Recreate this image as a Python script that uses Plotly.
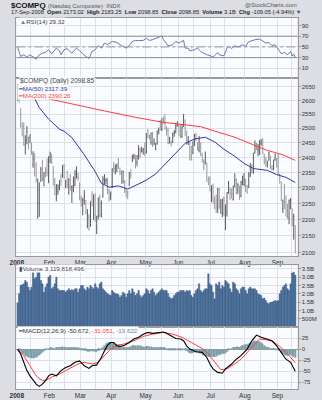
import math
import pandas as pd
import plotly.graph_objects as go

# ---------------------------------------------------------------- data
holidays = ["2008-01-21", "2008-02-18", "2008-03-21", "2008-05-26", "2008-07-04", "2008-09-01"]
dates = [d for d in pd.bdate_range("2008-01-02", "2008-09-17") if d.strftime("%Y-%m-%d") not in holidays]

open_ = [
    2653.9, 2611.9, 2571.1, 2514.2, 2506.7, 2443.5, 2457.4, 2466.2, 2468.4, 2440.5, 2375.9, 2399.6, 2370.7, 2208.2, 2251.2, 2339.0, 2382.3, 2328.6, 2359.7, 2353.4, 2326.2,
    2401.5, 2404.2, 2357.5, 2321.5, 2269.4, 2287.9, 2309.9, 2335.0, 2337.0, 2370.1, 2319.4, 2353.9, 2283.9, 2338.3, 2302.8, 2296.2, 2307.6, 2331.9, 2336.9, 2316.1,
    2262.0, 2241.6, 2265.2, 2259.1, 2181.5, 2206.5, 2196.1, 2260.2, 2211.8, 2276.0, 2157.6, 2210.0, 2272.5, 2214.3, 2270.5, 2327.0, 2322.4, 2328.6, 2291.5, 2268.1,
    2302.6, 2365.3, 2351.1, 2370.5, 2391.5, 2355.5, 2352.4, 2318.9, 2320.1, 2289.6, 2286.7, 2308.6, 2345.0, 2390.6, 2401.6, 2400.5, 2383.7, 2406.1, 2427.6, 2419.0, 2418.7, 2435.7,
    2417.5, 2495.0, 2470.1, 2451.8, 2479.5, 2449.4, 2428.3, 2449.6, 2492.3, 2501.5, 2496.2, 2537.5, 2534.5, 2499.4, 2491.7, 2453.3, 2449.5, 2450.6, 2486.2, 2485.1, 2511.4,
    2512.3, 2503.9, 2472.0, 2508.8, 2528.1, 2488.1, 2447.1, 2450.5, 2405.9, 2416.0, 2440.8, 2477.5, 2445.0, 2424.6, 2448.2, 2412.8, 2379.4, 2383.9, 2382.1, 2322.3, 2328.0,
    2270.0, 2307.9, 2263.1, 2257.4, 2236.7, 2294.7, 2239.9, 2222.6, 2270.1, 2195.3, 2222.7, 2295.2, 2294.9, 2294.3, 2262.7, 2307.4, 2324.1, 2291.5, 2300.1, 2272.1, 2324.7, 2310.3,
    2325.8, 2305.6, 2300.5, 2343.7, 2361.9, 2353.4, 2414.6, 2432.8, 2423.3, 2412.4, 2446.9, 2456.4, 2404.2, 2393.4, 2374.0, 2391.1, 2404.2, 2364.6, 2362.0, 2393.5, 2395.3,
    2399.9, 2344.1, 2318.5, 2234.2, 2311.6, 2266.8, 2230.6, 2204.9, 2238.0, 2198.6, 2150.8, 2173.02,
]
high = [
    2661.5, 2624.3, 2572.0, 2521.6, 2521.5, 2474.6, 2508.4, 2470.9, 2478.3, 2451.2, 2420.9, 2414.9, 2384.1, 2330.0, 2316.4, 2368.2, 2392.5, 2350.2, 2367.8, 2397.4, 2404.3,
    2419.3, 2411.3, 2372.1, 2331.9, 2312.0, 2310.9, 2324.9, 2345.4, 2374.2, 2378.2, 2326.1, 2354.3, 2331.0, 2345.1, 2307.7, 2336.9, 2358.1, 2370.2, 2348.5, 2317.5,
    2274.4, 2267.8, 2292.7, 2260.3, 2232.4, 2216.3, 2256.1, 2288.9, 2278.8, 2282.6, 2211.6, 2268.3, 2278.2, 2258.7, 2337.5, 2344.3, 2331.2, 2332.5, 2296.1, 2288.3,
    2362.8, 2385.0, 2376.5, 2380.5, 2398.5, 2366.6, 2357.7, 2356.7, 2324.5, 2296.0, 2292.1, 2351.4, 2360.8, 2409.4, 2412.5, 2407.9, 2407.8, 2441.4, 2432.7, 2436.7, 2432.2, 2451.5,
    2483.3, 2497.6, 2477.9, 2485.3, 2487.8, 2465.2, 2448.8, 2492.6, 2502.8, 2529.8, 2534.5, 2542.3, 2551.5, 2506.9, 2502.1, 2470.3, 2456.8, 2484.8, 2494.4, 2518.5, 2524.4,
    2514.3, 2515.8, 2515.3, 2550.3, 2531.7, 2492.1, 2473.4, 2452.6, 2439.5, 2454.6, 2480.5, 2484.1, 2452.3, 2473.4, 2450.8, 2415.6, 2394.0, 2420.0, 2382.1, 2336.4, 2337.8,
    2307.3, 2313.5, 2271.3, 2278.7, 2300.0, 2300.3, 2263.8, 2265.9, 2271.9, 2246.9, 2285.5, 2322.4, 2300.8, 2297.0, 2306.8, 2347.8, 2330.6, 2315.1, 2307.2, 2321.9, 2339.7, 2348.2,
    2328.6, 2309.0, 2350.0, 2381.1, 2377.4, 2415.9, 2458.3, 2449.4, 2446.4, 2460.2, 2462.6, 2466.6, 2412.5, 2401.5, 2389.4, 2419.9, 2406.5, 2374.8, 2392.9, 2412.2, 2398.5,
    2411.1, 2346.0, 2319.9, 2262.4, 2312.8, 2275.7, 2247.6, 2262.7, 2267.0, 2234.8, 2217.9, 2183.25,
]
low = [
    2597.8, 2592.2, 2502.7, 2471.7, 2440.3, 2410.0, 2445.1, 2427.9, 2448.5, 2409.4, 2365.9, 2336.9, 2318.0, 2202.5, 2208.2, 2318.6, 2322.2, 2304.6, 2334.5, 2337.9, 2314.9,
    2381.3, 2378.4, 2308.1, 2276.0, 2256.9, 2277.5, 2290.9, 2305.8, 2333.0, 2330.3, 2298.7, 2298.5, 2278.0, 2290.5, 2251.9, 2285.5, 2306.6, 2330.1, 2322.8, 2260.1,
    2241.1, 2213.0, 2246.3, 2216.0, 2173.0, 2166.6, 2177.4, 2240.8, 2198.4, 2192.7, 2155.4, 2200.0, 2207.8, 2206.0, 2268.5, 2311.5, 2310.8, 2280.2, 2256.5, 2261.3,
    2299.8, 2352.0, 2343.8, 2351.2, 2361.4, 2341.8, 2312.4, 2313.9, 2283.4, 2269.7, 2263.4, 2306.4, 2329.7, 2384.6, 2393.8, 2363.1, 2371.1, 2392.8, 2398.3, 2417.0, 2409.8, 2404.1,
    2413.2, 2465.4, 2460.9, 2443.1, 2436.3, 2441.4, 2424.5, 2443.5, 2479.1, 2494.8, 2490.6, 2515.8, 2495.4, 2475.4, 2445.2, 2447.4, 2437.4, 2449.0, 2470.7, 2483.0, 2506.0,
    2471.7, 2466.6, 2466.8, 2505.0, 2474.4, 2443.2, 2442.6, 2389.7, 2389.6, 2411.4, 2438.7, 2456.3, 2423.8, 2417.1, 2404.9, 2383.2, 2357.5, 2376.3, 2320.7, 2308.4, 2288.1,
    2254.8, 2250.2, 2232.2, 2220.8, 2219.7, 2233.7, 2217.0, 2207.3, 2211.7, 2167.3, 2208.9, 2280.2, 2261.3, 2265.5, 2259.3, 2301.0, 2278.9, 2280.6, 2262.0, 2270.5, 2308.5, 2305.2,
    2286.1, 2280.5, 2299.9, 2334.7, 2346.9, 2345.6, 2414.2, 2425.0, 2404.4, 2409.4, 2440.1, 2410.1, 2377.6, 2369.0, 2366.3, 2389.5, 2361.3, 2356.7, 2357.1, 2388.6, 2367.4,
    2342.8, 2313.6, 2256.7, 2220.3, 2232.9, 2209.3, 2201.7, 2185.4, 2231.9, 2179.9, 2138.6, 2098.85,
]
close = [
    2609.6, 2602.7, 2504.7, 2499.5, 2440.5, 2474.6, 2488.5, 2439.9, 2478.3, 2417.6, 2394.6, 2346.9, 2340.0, 2292.3, 2316.4, 2360.9, 2326.2, 2349.9, 2358.1, 2349.0, 2389.9,
    2413.4, 2382.9, 2309.6, 2278.8, 2293.0, 2304.9, 2320.1, 2320.0, 2373.9, 2332.5, 2321.8, 2306.2, 2327.1, 2299.8, 2303.4, 2327.5, 2345.0, 2353.8, 2331.6, 2271.5,
    2258.6, 2260.3, 2272.8, 2220.5, 2212.5, 2169.3, 2255.8, 2243.9, 2263.6, 2212.5, 2177.0, 2268.3, 2210.0, 2258.1, 2326.8, 2341.1, 2324.4, 2280.8, 2261.2, 2279.1,
    2362.8, 2361.4, 2363.3, 2371.0, 2364.8, 2348.8, 2322.1, 2351.7, 2290.2, 2275.8, 2286.0, 2350.1, 2341.8, 2403.0, 2408.0, 2376.9, 2405.2, 2428.9, 2422.9, 2424.4, 2426.1, 2412.8,
    2480.7, 2476.8, 2464.1, 2483.3, 2438.5, 2451.2, 2445.5, 2488.5, 2495.1, 2496.7, 2533.7, 2528.9, 2516.1, 2492.3, 2448.3, 2464.6, 2444.7, 2481.2, 2486.7, 2508.3, 2522.7,
    2491.5, 2480.5, 2503.1, 2549.9, 2474.6, 2459.5, 2448.9, 2394.0, 2404.4, 2454.5, 2474.8, 2457.7, 2429.7, 2462.1, 2406.1, 2385.7, 2368.3, 2401.3, 2321.4, 2315.6, 2293.0,
    2305.0, 2251.5, 2245.4, 2243.3, 2294.4, 2234.9, 2257.9, 2239.1, 2212.9, 2215.7, 2284.9, 2312.3, 2282.8, 2279.5, 2304.0, 2325.9, 2280.1, 2310.5, 2264.2, 2319.6, 2329.7, 2325.6,
    2311.0, 2285.6, 2349.8, 2378.4, 2355.7, 2414.1, 2440.0, 2430.6, 2428.6, 2453.7, 2452.5, 2417.0, 2384.4, 2389.1, 2380.4, 2414.7, 2365.6, 2362.0, 2382.5, 2411.6, 2367.5,
    2349.2, 2333.7, 2259.0, 2255.9, 2269.8, 2209.8, 2228.7, 2258.2, 2261.3, 2179.9, 2207.9, 2098.85,
]
# daily volume, billions of shares
volume = [
    1.45, 2.0, 2.5, 2.55, 2.6, 2.8, 2.7, 2.4, 2.2, 2.4, 3.3, 2.9, 3.0, 3.3, 3.35, 2.8, 2.6, 2.1, 2.4, 2.6, 3.0,
    3.1, 2.3, 2.4, 2.6, 3.0, 2.3, 2.2, 2.2, 2.2, 2.2, 2.1, 2.2, 2.3, 2.2, 2.25, 2.2, 2.3, 2.3, 2.1, 2.3,
    2.5, 2.5, 2.3, 2.2, 2.4, 2.3, 2.5, 2.4, 2.3, 2.6, 2.4, 2.3, 2.6, 2.7, 2.3, 2.2, 2.1, 2.0, 1.95, 1.9,
    2.2, 2.1, 2.0, 2.0, 1.95, 1.8, 1.9, 2.1, 2.0, 1.8, 2.0, 2.2, 2.0, 2.3, 2.1, 1.9, 2.0, 2.2, 1.9, 1.8, 1.9, 2.0,
    2.3, 2.2, 2.0, 2.2, 2.3, 2.1, 1.9, 2.0, 2.1, 2.2, 2.3, 2.2, 2.2, 2.2, 2.0, 1.8, 1.7, 1.75, 1.9, 2.0, 2.1,
    2.1, 2.2, 2.2, 2.2, 2.1, 2.2, 2.15, 2.2, 1.9, 1.8, 2.0, 2.2, 2.3, 2.6, 2.2, 2.1, 2.2, 2.3, 2.3, 3.2, 2.6,
    2.5, 2.1, 1.7, 2.6, 2.5, 2.7, 2.3, 2.5, 2.4, 2.8, 2.7, 2.6, 2.3, 2.1, 2.7, 2.6, 2.3, 2.2, 2.0, 2.3, 2.4, 2.4,
    2.2, 2.0, 2.3, 2.4, 2.3, 2.3, 2.3, 2.2, 2.0, 1.95, 1.9, 1.7, 1.75, 1.6, 1.45, 1.4, 1.5, 1.5, 1.55, 1.6, 1.55,
    1.6, 2.0, 2.2, 2.4, 2.5, 2.6, 2.3, 2.2, 2.6, 3.25, 3.3, 3.119818496,
]

# moving averages (trading-day index, value)
ma50_day = [10, 14, 20, 27, 30, 35, 43, 50, 54, 59, 65, 71, 77, 83, 89, 96, 102, 108, 114, 121, 127, 133, 140, 146, 152, 161, 167, 173, 179]
ma50_val = [2618, 2574, 2533, 2497, 2490, 2468, 2409, 2353, 2315, 2302, 2306, 2296, 2310, 2325, 2345, 2382, 2417, 2448, 2463, 2469, 2453, 2428, 2404, 2380, 2363, 2357, 2343, 2334, 2317.39]
ma200_day = [10, 35, 56, 77, 93, 118, 125, 140, 152, 161, 171, 179]
ma200_val = [2618, 2586, 2562, 2538, 2522, 2506, 2495, 2469, 2443, 2424, 2409, 2390.26]

# RSI(14)
rsi_day = [0, 2, 4, 6, 8, 10, 12, 14, 16, 18, 20, 22, 25, 27, 28, 30, 32, 35, 38, 40,
           42, 46, 48, 50, 52, 54, 56, 58, 61, 64, 67, 70, 72, 74, 76, 78, 81, 83, 85, 87,
           89, 93, 94, 96, 97, 100, 102, 104, 107, 108, 110, 111, 114, 116, 118, 120, 122, 124, 126, 129,
           130, 133, 135, 136, 138, 140, 142, 145, 147, 149, 151, 153, 156, 158, 160, 162, 164, 166, 168, 170,
           172, 174, 176, 177, 178, 179]
rsi_val = [49.7, 32.2, 35.3, 30.9, 35.3, 30.9, 27.2, 35.3, 38.4, 39.7, 44.7, 37.2, 47.8, 42.8, 35.3, 44.7, 46.6, 38.4, 47.8, 42.8,
           37.2, 28.4, 41.6, 44.7, 52.2, 47.8, 57.2, 54.1, 60.3, 58.4, 52.2, 47.8, 52.2, 60.3, 62.2, 61.6, 62.2, 65.9, 62.2, 63.4,
           65.9, 70.5, 64.0, 57.2, 52.0, 54.1, 60.3, 57.2, 62.2, 47.8, 47.8, 42.8, 44.7, 47.8, 41.6, 38.4, 35.3, 34.0, 30.9, 39.7,
           35.3, 33.4, 47.8, 50.9, 47.2, 52.2, 49.7, 54.1, 50.9, 59.7, 62.2, 63.4, 64.7, 60.3, 57.2, 58.4, 52.2, 54.1, 44.7, 37.2,
           39.7, 35.3, 41.6, 33.0, 37.0, 29.32]

# MACD(12,26,9)
macd_day = [0, 2, 4, 6, 8, 10, 12, 14, 16, 18, 20, 22, 25, 28, 31, 34, 37, 40, 43, 46,
            48, 51, 54, 56, 58, 60, 62, 64, 66, 69, 72, 75, 78, 81, 84, 87, 90, 94, 96, 99,
            102, 105, 107, 109, 111, 115, 119, 122, 124, 126, 129, 132, 134, 138, 141, 144, 148, 151, 154, 157,
            161, 164, 167, 170, 173, 176, 179]
macd_val = [0, -11, -30, -49, -61, -72, -80, -85, -80, -72, -61, -57, -61, -49, -42, -38, -30, -27, -38, -44,
            -38, -36, -19, -4, 9, 15, 15, 7.5, 6, 9, 15, 23, 27, 34, 38, 36, 38, 39, 36, 29,
            24, 23, 19, 7.5, 0, -6, -7.5, -19, -34, -45, -53, -55, -45, -34, -23, -15, 0, 19, 32, 27,
            23, 19, 7.5, -7.5, -23, -30, -50.672]
signal_day = [0, 4, 8, 12, 16, 19, 22, 27, 31, 35, 39, 43, 48, 52, 56, 60, 64, 68, 75, 81,
              87, 94, 100, 106, 112, 119, 123, 127, 131, 135, 140, 144, 148, 152, 156, 161, 165, 169, 173, 179]
signal_val = [0, -15, -38, -61, -72, -70, -64, -57, -49, -42, -34, -30, -34, -30, -15, 0, 9, 11, 19, 29,
              34, 38, 34, 27, 15, 1.5, -11, -30, -47, -45, -34, -23, -7.5, 9, 23, 21, 17, 6, -7.5, -31.051]
hist = [
    0, -3, -6, -9, -12, -15, -17, -19, -20, -21, -21, -20, -19, -17, -14, -11, -8, -5, -2, 0, 2,
    3, 3, 2, 2, 3, 4, 5, 5, 6, 5, 5, 4, 4, 4, 3, 3, 4, 4, 3, 1,
    -1, -2, -3, -4, -5, -6, -5, -5, -5, -6, -6, -4, -3, 0, 4, 9, 13, 15, 16, 16,
    15, 14, 12, 11, 10, 8, 6, 6, 4, 3, 3, 5, 6, 8, 9, 8, 8, 8, 8, 7, 6, 5,
    7, 7, 6, 6, 4, 4, 3, 4, 4, 4, 5, 5, 3, 1, -1, -2, -3, -2, -2, -1, 0,
    -2, -3, -2, 0, -2, -4, -6, -9, -10, -9, -7, -7, -8, -8, -10, -12, -14, -13, -16, -17, -18,
    -17, -18, -18, -17, -14, -14, -12, -11, -10, -10, -6, -2, 0, 1, 3, 5, 5, 6, 5, 7, 9, 10,
    11, 11, 13, 15, 16, 18, 19, 19, 18, 17, 15, 12, 9, 6, 5, 4, 2, 1, 1, 2, 0,
    -2, -4, -8, -11, -12, -14, -15, -14, -13, -16, -17, -19.622,
]

price_ticks = [2100, 2150, 2200, 2250, 2300, 2350, 2400, 2450, 2500, 2550, 2600, 2650]
rsi_ticks = [10, 30, 50, 70, 90]
vol_ticks = [0.5, 1.0, 1.5, 2.0, 2.5, 3.0, 3.5]
vol_tick_text = ["500M", "1.0B", "1.5B", "2.0B", "2.5B", "3.0B", "3.5B"]
macd_ticks = [-75, -50, -25, 0, 25]
month_labels = ["2008", "Feb", "Mar", "Apr", "May", "Jun", "Jul", "Aug", "Sep"]

# ---------------------------------------------------------------- x grid (trading-day index)
n = len(dates)
x = list(range(n))
hover = [d.strftime("%d-%b-%Y") for d in dates]
month_start = [i for i in range(n) if i == 0 or dates[i].month != dates[i - 1].month]
mid_month = [next(i for i in range(n) if dates[i].month == m and dates[i].day >= 15) for m in range(1, 10)]
grid_vals = [i - 0.5 for i in month_start] + [i - 0.5 for i in mid_month]
grid_text = ["<b>2008</b>"] + month_labels[1:] + [""] * len(mid_month)

# ---------------------------------------------------------------- geometry helpers
W, H = 322, 400
def fx(p):
    return p / W
def fy(p):
    return 1 - p / H

x_dom = [fx(9.5), fx(297)]
rsi_dom = [fy(78.5), fy(18)]
price_dom = [fy(257), fy(78.5)]
vol_dom = [fy(328), fy(266)]
macd_dom = [fy(390), fy(328)]

FONT = "Liberation Sans, Arial, DejaVu Sans, sans-serif"
GRID = "#dde1e8"
BORDER = "#9a9a9a"
PLOT_BG = "#fbfcff"

fig = go.Figure()

# RSI panel
fig.add_trace(go.Scatter(x=rsi_day, y=rsi_val, mode="lines", line=dict(color="#5a68a8", width=0.9),
                         xaxis="x", yaxis="y", hoverinfo="skip"))

# price panel
fig.add_trace(go.Ohlc(x=x, open=open_, high=high, low=low, close=close, text=hover,
                      xaxis="x2", yaxis="y2", tickwidth=0.35,
                      increasing=dict(line=dict(color="#5a5a5a", width=1)),
                      decreasing=dict(line=dict(color="#9a9a9a", width=1))))
fig.add_trace(go.Scatter(x=ma200_day, y=ma200_val, mode="lines", line=dict(color="#ff3c3c", width=1),
                         xaxis="x2", yaxis="y2", hoverinfo="skip"))
fig.add_trace(go.Scatter(x=ma50_day, y=ma50_val, mode="lines", line=dict(color="#34349a", width=1),
                         xaxis="x2", yaxis="y2", hoverinfo="skip"))

# volume panel
fig.add_trace(go.Bar(x=x, y=volume, marker=dict(color="#5079a8", line=dict(color="#213f6a", width=0.4)),
                     xaxis="x3", yaxis="y3", hoverinfo="skip"))

# MACD panel
fig.add_trace(go.Bar(x=x, y=hist, marker=dict(color="#7c9fa8", line=dict(width=0)),
                     xaxis="x4", yaxis="y4", hoverinfo="skip"))
fig.add_trace(go.Scatter(x=signal_day, y=signal_val, mode="lines", line=dict(color="#ff4040", width=1),
                         xaxis="x4", yaxis="y4", hoverinfo="skip"))
fig.add_trace(go.Scatter(x=macd_day, y=macd_val, mode="lines", line=dict(color="#000000", width=1.1),
                         xaxis="x4", yaxis="y4", hoverinfo="skip"))

def xaxis_cfg(anchor, labels):
    return dict(domain=x_dom, anchor=anchor, range=[-0.82, 180.46], tickmode="array",
                tickvals=grid_vals, ticktext=grid_text, showticklabels=labels,
                showgrid=True, gridcolor=GRID, gridwidth=1, zeroline=False,
                showline=True, mirror=True, linecolor=BORDER, linewidth=1, ticks="",
                tickfont=dict(size=6.5, color="#333", family=FONT),
                rangeslider=dict(visible=False), fixedrange=True)

def yaxis_cfg(anchor, dom, rng, vals, text=None, **kw):
    cfg = dict(domain=dom, anchor=anchor, side="right", range=rng, tickmode="array", tickvals=vals,
               showgrid=True, gridcolor=GRID, gridwidth=1, zeroline=False,
               showline=True, mirror=True, linecolor=BORDER, linewidth=1,
               ticks="outside", ticklen=2, tickcolor=BORDER,
               tickfont=dict(size=6, color="#333", family=FONT), fixedrange=True)
    if text is not None:
        cfg["ticktext"] = text
    cfg.update(kw)
    return cfg

fig.update_layout(
    width=W, height=H, margin=dict(l=0, r=0, t=0, b=0),
    paper_bgcolor="#dcdee3", plot_bgcolor=PLOT_BG, showlegend=False,
    font=dict(family=FONT, size=6, color="#333"), bargap=0.12,
    xaxis=xaxis_cfg("y", False),
    xaxis2=xaxis_cfg("y2", True),
    xaxis3=xaxis_cfg("y3", False),
    xaxis4=xaxis_cfg("y4", True),
    yaxis=yaxis_cfg("x", rsi_dom, [-8.5, 104], rsi_ticks),
    yaxis2=yaxis_cfg("x2", price_dom, [math.log10(2089), math.log10(2682)], price_ticks,
                     [str(v) for v in price_ticks], type="log"),
    yaxis3=yaxis_cfg("x3", vol_dom, [0, 3.71], vol_ticks, vol_tick_text),
    yaxis4=yaxis_cfg("x4", macd_dom, [-91, 50], macd_ticks, [str(v) for v in macd_ticks],
                     zeroline=True, zerolinecolor="#9a9a9a", zerolinewidth=1),
)

# RSI reference levels
fig.add_shape(type="line", xref="x domain", yref="y", x0=0, x1=1, y0=70, y1=70, line=dict(color="#8e8e8e", width=1))
fig.add_shape(type="line", xref="x domain", yref="y", x0=0, x1=1, y0=30, y1=30, line=dict(color="#8e8e8e", width=1))
fig.add_shape(type="line", xref="x domain", yref="y", x0=0, x1=1, y0=50, y1=50, line=dict(color="#9a9a9a", width=1, dash="dashdot"))

# ---------------------------------------------------------------- text
def note(px_, py_, text, size=6, color="#333", anchor="left", bg=None):
    fig.add_annotation(xref="paper", yref="paper", x=fx(px_), y=fy(py_), text=text, showarrow=False,
                       xanchor=anchor, yanchor="middle", font=dict(size=size, color=color, family=FONT),
                       bgcolor=bg, borderpad=0)

chg = close[-1] - close[-2]
pct = chg / close[-2] * 100
note(3, 5.5, '<b>$COMPQ</b> <span style="font-size:6px;color:#555">(Nasdaq Composite)  INDX</span>', size=8, color="#111")
note(297, 5.5, "@StockCharts.com", size=6, color="#555", anchor="right")
header = (f"{dates[-1].strftime('%d-%b-%Y')}  <b>Open</b> {open_[-1]:.2f}  <b>High</b> {high[-1]:.2f}  "
          f"<b>Low</b> {low[-1]:.2f}  <b>Close</b> {close[-1]:.2f}  <b>Volume</b> {volume[-1]:.1f}B  "
          f"<b>Chg</b> {chg:.2f} ({pct:.2f}%)" + ' <span style="color:#2a4fa0">▼</span>')
note(3, 12.5, header, size=5.7, color="#222")

note(12, 22, f'<span style="color:#6b7fb0">▲</span>RSI(14) {rsi_val[-1]:.2f}', size=6.2, color="#444", bg=PLOT_BG)
note(12, 81.5, f"$COMPQ (Daily) {close[-1]:.2f}", size=6.5, color="#444", bg=PLOT_BG)
note(10.5, 88.5, f"━MA(50) {ma50_val[-1]:.2f}", size=6.2, color="#34349a", bg=PLOT_BG)
note(10.5, 95.5, f"━MA(200) {ma200_val[-1]:.2f}", size=6.2, color="#ff3c3c", bg=PLOT_BG)
note(11, 269.5, f'<span style="color:#34507a">▮</span>Volume {round(volume[-1] * 1e9):,}', size=6.2, color="#444", bg=PLOT_BG)
note(10.5, 331.5, f'━MACD(12,26,9) {macd_val[-1]:.3f}, <span style="color:#ff4040">{signal_val[-1]:.3f}</span>, '
                  f'<span style="color:#5f8f96">{hist[-1]:.3f}</span>', size=6.2, color="#333", bg=PLOT_BG)

fig.write_html("out.html")
